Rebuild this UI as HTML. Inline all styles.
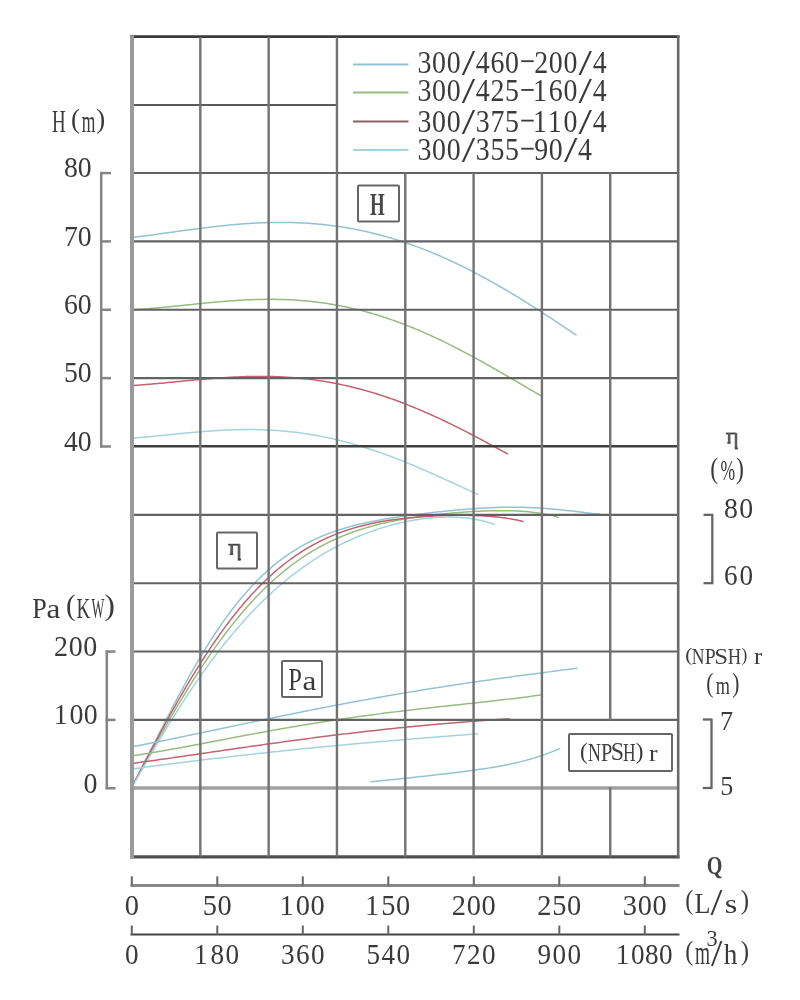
<!DOCTYPE html>
<html><head><meta charset="utf-8"><style>
html,body{margin:0;padding:0;background:#fff;}
svg{display:block;font-family:"Liberation Serif",serif;}
#w{width:800px;height:1000px;will-change:transform;}
</style></head><body>
<div id="w"><svg width="800" height="1000" viewBox="0 0 800 1000">
<rect width="800" height="1000" fill="#fff"/>
<path d="M132.00,237.44 L133.99,237.21 L135.98,236.96 L137.97,236.72 L139.96,236.47 L141.96,236.22 L143.95,235.96 L145.94,235.70 L147.93,235.44 L149.92,235.18 L151.91,234.91 L153.90,234.64 L155.89,234.37 L157.88,234.10 L159.87,233.83 L161.87,233.55 L163.86,233.28 L165.85,233.00 L167.84,232.73 L169.83,232.45 L171.82,232.17 L173.81,231.90 L175.80,231.62 L177.79,231.34 L179.78,231.07 L181.78,230.80 L183.77,230.52 L185.76,230.25 L187.75,229.99 L189.74,229.72 L191.73,229.45 L193.72,229.19 L195.71,228.93 L197.70,228.67 L199.70,228.42 L201.69,228.16 L203.68,227.92 L205.67,227.67 L207.66,227.43 L209.65,227.19 L211.64,226.95 L213.63,226.72 L215.62,226.50 L217.61,226.28 L219.61,226.06 L221.60,225.85 L223.59,225.64 L225.58,225.44 L227.57,225.24 L229.56,225.05 L231.55,224.86 L233.54,224.68 L235.53,224.51 L237.52,224.34 L239.52,224.17 L241.51,224.02 L243.50,223.87 L245.49,223.72 L247.48,223.59 L249.47,223.46 L251.46,223.34 L253.45,223.22 L255.44,223.11 L257.43,223.01 L259.43,222.92 L261.42,222.83 L263.41,222.75 L265.40,222.68 L267.39,222.62 L269.38,222.57 L271.37,222.52 L273.36,222.48 L275.35,222.45 L277.35,222.43 L279.34,222.42 L281.33,222.42 L283.32,222.42 L285.31,222.44 L287.30,222.46 L289.29,222.50 L291.28,222.54 L293.27,222.59 L295.26,222.65 L297.26,222.72 L299.25,222.80 L301.24,222.89 L303.23,222.99 L305.22,223.10 L307.21,223.22 L309.20,223.35 L311.19,223.49 L313.18,223.64 L315.17,223.80 L317.17,223.97 L319.16,224.15 L321.15,224.35 L323.14,224.55 L325.13,224.76 L327.12,224.98 L329.11,225.22 L331.10,225.46 L333.09,225.72 L335.09,225.98 L337.08,226.26 L339.07,226.55 L341.06,226.85 L343.05,227.16 L345.04,227.48 L347.03,227.81 L349.02,228.16 L351.01,228.51 L353.00,228.88 L355.00,229.26 L356.99,229.65 L358.98,230.05 L360.97,230.46 L362.96,230.88 L364.95,231.32 L366.94,231.76 L368.93,232.22 L370.92,232.69 L372.91,233.17 L374.91,233.66 L376.90,234.16 L378.89,234.68 L380.88,235.20 L382.87,235.74 L384.86,236.29 L386.85,236.85 L388.84,237.42 L390.83,238.00 L392.83,238.60 L394.82,239.21 L396.81,239.82 L398.80,240.45 L400.79,241.09 L402.78,241.74 L404.77,242.41 L406.76,243.08 L408.75,243.77 L410.74,244.47 L412.74,245.18 L414.73,245.90 L416.72,246.63 L418.71,247.37 L420.70,248.12 L422.69,248.89 L424.68,249.66 L426.67,250.45 L428.66,251.25 L430.65,252.06 L432.65,252.88 L434.64,253.71 L436.63,254.55 L438.62,255.40 L440.61,256.26 L442.60,257.14 L444.59,258.02 L446.58,258.91 L448.57,259.82 L450.57,260.73 L452.56,261.66 L454.55,262.60 L456.54,263.54 L458.53,264.50 L460.52,265.46 L462.51,266.44 L464.50,267.43 L466.49,268.42 L468.48,269.43 L470.48,270.44 L472.47,271.47 L474.46,272.50 L476.45,273.54 L478.44,274.60 L480.43,275.66 L482.42,276.73 L484.41,277.81 L486.40,278.90 L488.39,279.99 L490.39,281.10 L492.38,282.21 L494.37,283.34 L496.36,284.47 L498.35,285.61 L500.34,286.75 L502.33,287.91 L504.32,289.07 L506.31,290.24 L508.30,291.42 L510.30,292.61 L512.29,293.80 L514.28,295.00 L516.27,296.21 L518.26,297.42 L520.25,298.65 L522.24,299.87 L524.23,301.11 L526.22,302.35 L528.22,303.60 L530.21,304.85 L532.20,306.11 L534.19,307.37 L536.18,308.64 L538.17,309.92 L540.16,311.20 L542.15,312.49 L544.14,313.78 L546.13,315.08 L548.13,316.38 L550.12,317.68 L552.11,318.99 L554.10,320.31 L556.09,321.62 L558.08,322.95 L560.07,324.27 L562.06,325.60 L564.05,326.93 L566.04,328.27 L568.04,329.61 L570.03,330.95 L572.02,332.29 L574.01,333.64 L576.00,334.99" fill="none" stroke="#93c3d3" stroke-width="1.5" stroke-linecap="round" stroke-linejoin="round"/>
<path d="M132.00,309.57 L134.00,309.49 L135.99,309.39 L137.99,309.28 L139.98,309.16 L141.98,309.04 L143.97,308.91 L145.97,308.77 L147.96,308.63 L149.96,308.48 L151.95,308.32 L153.95,308.16 L155.94,307.99 L157.94,307.82 L159.93,307.64 L161.93,307.46 L163.92,307.27 L165.92,307.08 L167.91,306.89 L169.91,306.70 L171.90,306.50 L173.90,306.30 L175.89,306.10 L177.89,305.89 L179.88,305.69 L181.88,305.48 L183.87,305.27 L185.87,305.06 L187.86,304.86 L189.86,304.65 L191.85,304.44 L193.85,304.23 L195.84,304.03 L197.84,303.82 L199.83,303.62 L201.83,303.42 L203.82,303.22 L205.82,303.02 L207.81,302.83 L209.81,302.63 L211.80,302.45 L213.80,302.26 L215.80,302.08 L217.79,301.90 L219.79,301.73 L221.78,301.56 L223.78,301.39 L225.77,301.23 L227.77,301.07 L229.76,300.92 L231.76,300.78 L233.75,300.64 L235.75,300.50 L237.74,300.38 L239.74,300.26 L241.73,300.14 L243.73,300.03 L245.72,299.93 L247.72,299.84 L249.71,299.75 L251.71,299.67 L253.70,299.60 L255.70,299.53 L257.69,299.47 L259.69,299.43 L261.68,299.39 L263.68,299.35 L265.67,299.33 L267.67,299.32 L269.66,299.31 L271.66,299.31 L273.65,299.33 L275.65,299.35 L277.64,299.38 L279.64,299.42 L281.63,299.47 L283.63,299.53 L285.62,299.60 L287.62,299.68 L289.61,299.77 L291.61,299.87 L293.60,299.98 L295.60,300.11 L297.60,300.24 L299.59,300.38 L301.59,300.54 L303.58,300.70 L305.58,300.88 L307.57,301.07 L309.57,301.27 L311.56,301.48 L313.56,301.70 L315.55,301.93 L317.55,302.17 L319.54,302.43 L321.54,302.70 L323.53,302.98 L325.53,303.27 L327.52,303.57 L329.52,303.89 L331.51,304.21 L333.51,304.55 L335.50,304.90 L337.50,305.27 L339.49,305.64 L341.49,306.03 L343.48,306.43 L345.48,306.84 L347.47,307.26 L349.47,307.70 L351.46,308.15 L353.46,308.61 L355.45,309.08 L357.45,309.56 L359.44,310.06 L361.44,310.57 L363.43,311.09 L365.43,311.62 L367.42,312.17 L369.42,312.73 L371.41,313.30 L373.41,313.88 L375.40,314.47 L377.40,315.08 L379.40,315.70 L381.39,316.33 L383.39,316.97 L385.38,317.63 L387.38,318.29 L389.37,318.97 L391.37,319.66 L393.36,320.36 L395.36,321.07 L397.35,321.80 L399.35,322.53 L401.34,323.28 L403.34,324.04 L405.33,324.81 L407.33,325.59 L409.32,326.38 L411.32,327.18 L413.31,328.00 L415.31,328.82 L417.30,329.66 L419.30,330.50 L421.29,331.36 L423.29,332.23 L425.28,333.10 L427.28,333.99 L429.27,334.89 L431.27,335.80 L433.26,336.71 L435.26,337.64 L437.25,338.58 L439.25,339.52 L441.24,340.48 L443.24,341.44 L445.23,342.41 L447.23,343.39 L449.22,344.38 L451.22,345.38 L453.21,346.39 L455.21,347.40 L457.20,348.43 L459.20,349.46 L461.20,350.50 L463.19,351.54 L465.19,352.60 L467.18,353.66 L469.18,354.72 L471.17,355.80 L473.17,356.88 L475.16,357.96 L477.16,359.06 L479.15,360.15 L481.15,361.26 L483.14,362.37 L485.14,363.48 L487.13,364.60 L489.13,365.73 L491.12,366.86 L493.12,367.99 L495.11,369.13 L497.11,370.27 L499.10,371.41 L501.10,372.56 L503.09,373.71 L505.09,374.87 L507.08,376.02 L509.08,377.18 L511.07,378.35 L513.07,379.51 L515.06,380.67 L517.06,381.84 L519.05,383.01 L521.05,384.18 L523.04,385.34 L525.04,386.51 L527.03,387.68 L529.03,388.85 L531.02,390.02 L533.02,391.18 L535.01,392.35 L537.01,393.51 L539.00,394.67 L541.00,395.83" fill="none" stroke="#98bc80" stroke-width="1.5" stroke-linecap="round" stroke-linejoin="round"/>
<path d="M132.00,385.54 L134.00,385.41 L135.99,385.28 L137.99,385.14 L139.99,385.00 L141.99,384.85 L143.98,384.70 L145.98,384.54 L147.98,384.37 L149.98,384.20 L151.97,384.03 L153.97,383.86 L155.97,383.68 L157.97,383.50 L159.96,383.31 L161.96,383.13 L163.96,382.94 L165.95,382.75 L167.95,382.55 L169.95,382.36 L171.95,382.17 L173.94,381.97 L175.94,381.78 L177.94,381.58 L179.94,381.39 L181.93,381.19 L183.93,381.00 L185.93,380.80 L187.93,380.61 L189.92,380.42 L191.92,380.23 L193.92,380.04 L195.91,379.86 L197.91,379.68 L199.91,379.50 L201.91,379.32 L203.90,379.15 L205.90,378.98 L207.90,378.81 L209.90,378.65 L211.89,378.49 L213.89,378.33 L215.89,378.18 L217.89,378.04 L219.88,377.90 L221.88,377.76 L223.88,377.63 L225.88,377.51 L227.87,377.39 L229.87,377.27 L231.87,377.17 L233.86,377.07 L235.86,376.97 L237.86,376.88 L239.86,376.80 L241.85,376.73 L243.85,376.66 L245.85,376.60 L247.85,376.55 L249.84,376.50 L251.84,376.46 L253.84,376.44 L255.84,376.41 L257.83,376.40 L259.83,376.40 L261.83,376.40 L263.82,376.41 L265.82,376.43 L267.82,376.46 L269.82,376.50 L271.81,376.55 L273.81,376.61 L275.81,376.67 L277.81,376.75 L279.80,376.83 L281.80,376.93 L283.80,377.03 L285.80,377.15 L287.79,377.27 L289.79,377.41 L291.79,377.55 L293.78,377.71 L295.78,377.87 L297.78,378.05 L299.78,378.24 L301.77,378.43 L303.77,378.64 L305.77,378.86 L307.77,379.09 L309.76,379.33 L311.76,379.58 L313.76,379.84 L315.76,380.12 L317.75,380.40 L319.75,380.69 L321.75,381.00 L323.74,381.32 L325.74,381.65 L327.74,381.99 L329.74,382.34 L331.73,382.70 L333.73,383.08 L335.73,383.46 L337.73,383.86 L339.72,384.27 L341.72,384.69 L343.72,385.12 L345.72,385.56 L347.71,386.01 L349.71,386.48 L351.71,386.96 L353.70,387.45 L355.70,387.95 L357.70,388.46 L359.70,388.98 L361.69,389.51 L363.69,390.06 L365.69,390.62 L367.69,391.18 L369.68,391.76 L371.68,392.35 L373.68,392.95 L375.68,393.57 L377.67,394.19 L379.67,394.83 L381.67,395.47 L383.66,396.13 L385.66,396.80 L387.66,397.48 L389.66,398.17 L391.65,398.87 L393.65,399.58 L395.65,400.30 L397.65,401.03 L399.64,401.77 L401.64,402.53 L403.64,403.29 L405.64,404.06 L407.63,404.85 L409.63,405.64 L411.63,406.44 L413.62,407.25 L415.62,408.08 L417.62,408.91 L419.62,409.75 L421.61,410.60 L423.61,411.46 L425.61,412.33 L427.61,413.21 L429.60,414.10 L431.60,414.99 L433.60,415.89 L435.60,416.81 L437.59,417.73 L439.59,418.66 L441.59,419.59 L443.59,420.54 L445.58,421.49 L447.58,422.45 L449.58,423.42 L451.57,424.39 L453.57,425.38 L455.57,426.37 L457.57,427.36 L459.56,428.36 L461.56,429.37 L463.56,430.39 L465.56,431.41 L467.55,432.43 L469.55,433.47 L471.55,434.50 L473.55,435.55 L475.54,436.59 L477.54,437.65 L479.54,438.70 L481.53,439.77 L483.53,440.83 L485.53,441.90 L487.53,442.98 L489.52,444.05 L491.52,445.13 L493.52,446.22 L495.52,447.30 L497.51,448.39 L499.51,449.48 L501.51,450.58 L503.51,451.67 L505.50,452.77 L507.50,453.87" fill="none" stroke="#c0646e" stroke-width="1.5" stroke-linecap="round" stroke-linejoin="round"/>
<path d="M132.00,438.17 L134.00,438.02 L135.99,437.86 L137.99,437.70 L139.99,437.53 L141.99,437.36 L143.98,437.19 L145.98,437.00 L147.98,436.82 L149.97,436.63 L151.97,436.44 L153.97,436.25 L155.97,436.05 L157.96,435.85 L159.96,435.66 L161.96,435.45 L163.95,435.25 L165.95,435.05 L167.95,434.85 L169.95,434.65 L171.94,434.44 L173.94,434.24 L175.94,434.04 L177.93,433.84 L179.93,433.64 L181.93,433.45 L183.92,433.25 L185.92,433.06 L187.92,432.87 L189.92,432.68 L191.91,432.50 L193.91,432.32 L195.91,432.14 L197.90,431.97 L199.90,431.80 L201.90,431.63 L203.90,431.47 L205.89,431.32 L207.89,431.17 L209.89,431.02 L211.88,430.89 L213.88,430.75 L215.88,430.62 L217.88,430.50 L219.87,430.39 L221.87,430.28 L223.87,430.18 L225.86,430.08 L227.86,430.00 L229.86,429.92 L231.86,429.84 L233.85,429.78 L235.85,429.72 L237.85,429.67 L239.84,429.63 L241.84,429.60 L243.84,429.57 L245.84,429.56 L247.83,429.55 L249.83,429.55 L251.83,429.57 L253.82,429.59 L255.82,429.62 L257.82,429.66 L259.82,429.71 L261.81,429.76 L263.81,429.83 L265.81,429.91 L267.80,430.00 L269.80,430.10 L271.80,430.21 L273.79,430.33 L275.79,430.46 L277.79,430.60 L279.79,430.75 L281.78,430.91 L283.78,431.09 L285.78,431.27 L287.77,431.46 L289.77,431.67 L291.77,431.89 L293.77,432.11 L295.76,432.35 L297.76,432.60 L299.76,432.86 L301.75,433.14 L303.75,433.42 L305.75,433.72 L307.75,434.02 L309.74,434.34 L311.74,434.67 L313.74,435.01 L315.73,435.36 L317.73,435.72 L319.73,436.10 L321.73,436.48 L323.72,436.88 L325.72,437.29 L327.72,437.71 L329.71,438.14 L331.71,438.58 L333.71,439.04 L335.71,439.50 L337.70,439.98 L339.70,440.47 L341.70,440.97 L343.69,441.47 L345.69,442.00 L347.69,442.53 L349.68,443.07 L351.68,443.62 L353.68,444.19 L355.68,444.76 L357.67,445.34 L359.67,445.94 L361.67,446.55 L363.66,447.16 L365.66,447.79 L367.66,448.43 L369.66,449.07 L371.65,449.73 L373.65,450.39 L375.65,451.07 L377.64,451.75 L379.64,452.45 L381.64,453.15 L383.64,453.87 L385.63,454.59 L387.63,455.32 L389.63,456.06 L391.62,456.81 L393.62,457.56 L395.62,458.33 L397.62,459.10 L399.61,459.88 L401.61,460.67 L403.61,461.47 L405.60,462.27 L407.60,463.08 L409.60,463.90 L411.60,464.72 L413.59,465.55 L415.59,466.39 L417.59,467.23 L419.58,468.08 L421.58,468.94 L423.58,469.80 L425.58,470.66 L427.57,471.54 L429.57,472.41 L431.57,473.29 L433.56,474.18 L435.56,475.07 L437.56,475.96 L439.55,476.86 L441.55,477.76 L443.55,478.66 L445.55,479.57 L447.54,480.48 L449.54,481.39 L451.54,482.30 L453.53,483.22 L455.53,484.13 L457.53,485.05 L459.53,485.97 L461.52,486.89 L463.52,487.81 L465.52,488.73 L467.51,489.65 L469.51,490.57 L471.51,491.49 L473.51,492.40 L475.50,493.32 L477.50,494.23" fill="none" stroke="#a4d3e0" stroke-width="1.5" stroke-linecap="round" stroke-linejoin="round"/>
<path d="M132.00,786.45 L133.99,782.67 L135.98,778.86 L137.97,775.02 L139.97,771.16 L141.96,767.27 L143.95,763.37 L145.94,759.46 L147.93,755.53 L149.92,751.60 L151.91,747.67 L153.91,743.73 L155.90,739.80 L157.89,735.86 L159.88,731.94 L161.87,728.03 L163.86,724.13 L165.86,720.24 L167.85,716.37 L169.84,712.51 L171.83,708.68 L173.82,704.87 L175.81,701.09 L177.80,697.33 L179.80,693.60 L181.79,689.90 L183.78,686.23 L185.77,682.60 L187.76,678.99 L189.75,675.43 L191.74,671.90 L193.74,668.40 L195.73,664.95 L197.72,661.54 L199.71,658.16 L201.70,654.83 L203.69,651.54 L205.69,648.29 L207.68,645.09 L209.67,641.93 L211.66,638.82 L213.65,635.76 L215.64,632.73 L217.63,629.76 L219.63,626.83 L221.62,623.95 L223.61,621.12 L225.60,618.34 L227.59,615.60 L229.58,612.91 L231.57,610.27 L233.57,607.68 L235.56,605.13 L237.55,602.64 L239.54,600.19 L241.53,597.79 L243.52,595.43 L245.51,593.13 L247.51,590.87 L249.50,588.66 L251.49,586.49 L253.48,584.38 L255.47,582.31 L257.46,580.28 L259.46,578.30 L261.45,576.37 L263.44,574.47 L265.43,572.63 L267.42,570.83 L269.41,569.07 L271.40,567.35 L273.40,565.67 L275.39,564.04 L277.38,562.45 L279.37,560.90 L281.36,559.39 L283.35,557.91 L285.34,556.48 L287.34,555.08 L289.33,553.72 L291.32,552.40 L293.31,551.11 L295.30,549.86 L297.29,548.65 L299.29,547.46 L301.28,546.31 L303.27,545.20 L305.26,544.11 L307.25,543.06 L309.24,542.04 L311.23,541.04 L313.23,540.08 L315.22,539.14 L317.21,538.23 L319.20,537.35 L321.19,536.50 L323.18,535.67 L325.17,534.86 L327.17,534.08 L329.16,533.32 L331.15,532.59 L333.14,531.88 L335.13,531.18 L337.12,530.51 L339.11,529.86 L341.11,529.23 L343.10,528.62 L345.09,528.03 L347.08,527.45 L349.07,526.89 L351.06,526.35 L353.06,525.82 L355.05,525.31 L357.04,524.82 L359.03,524.33 L361.02,523.86 L363.01,523.41 L365.00,522.96 L367.00,522.53 L368.99,522.11 L370.98,521.70 L372.97,521.30 L374.96,520.91 L376.95,520.54 L378.94,520.17 L380.94,519.81 L382.93,519.45 L384.92,519.11 L386.91,518.77 L388.90,518.44 L390.89,518.12 L392.89,517.80 L394.88,517.49 L396.87,517.19 L398.86,516.89 L400.85,516.60 L402.84,516.32 L404.83,516.03 L406.83,515.76 L408.82,515.48 L410.81,515.22 L412.80,514.95 L414.79,514.69 L416.78,514.44 L418.77,514.19 L420.77,513.94 L422.76,513.70 L424.75,513.46 L426.74,513.22 L428.73,512.98 L430.72,512.75 L432.71,512.53 L434.71,512.30 L436.70,512.08 L438.69,511.87 L440.68,511.65 L442.67,511.45 L444.66,511.24 L446.66,511.04 L448.65,510.84 L450.64,510.64 L452.63,510.45 L454.62,510.26 L456.61,510.08 L458.60,509.90 L460.60,509.72 L462.59,509.55 L464.58,509.39 L466.57,509.23 L468.56,509.07 L470.55,508.92 L472.54,508.77 L474.54,508.63 L476.53,508.49 L478.52,508.36 L480.51,508.24 L482.50,508.12 L484.49,508.01 L486.49,507.91 L488.48,507.81 L490.47,507.71 L492.46,507.63 L494.45,507.55 L496.44,507.48 L498.43,507.42 L500.43,507.36 L502.42,507.32 L504.41,507.28 L506.40,507.25 L508.39,507.23 L510.38,507.21 L512.37,507.21 L514.37,507.21 L516.36,507.22 L518.35,507.24 L520.34,507.27 L522.33,507.31 L524.32,507.36 L526.31,507.42 L528.31,507.49 L530.30,507.57 L532.29,507.65 L534.28,507.75 L536.27,507.85 L538.26,507.97 L540.26,508.09 L542.25,508.22 L544.24,508.36 L546.23,508.51 L548.22,508.67 L550.21,508.83 L552.20,509.01 L554.20,509.19 L556.19,509.38 L558.18,509.57 L560.17,509.78 L562.16,509.99 L564.15,510.20 L566.14,510.42 L568.14,510.64 L570.13,510.87 L572.12,511.10 L574.11,511.34 L576.10,511.58 L578.09,511.81 L580.09,512.05 L582.08,512.29 L584.07,512.53 L586.06,512.76 L588.05,512.99 L590.04,513.22 L592.03,513.44 L594.03,513.66 L596.02,513.87 L598.01,514.07 L600.00,514.25" fill="none" stroke="#93c3d3" stroke-width="1.5" stroke-linecap="round" stroke-linejoin="round"/>
<path d="M132.00,786.91 L133.99,783.26 L135.98,779.61 L137.97,775.96 L139.96,772.32 L141.95,768.68 L143.94,765.05 L145.93,761.43 L147.93,757.82 L149.92,754.21 L151.91,750.62 L153.90,747.04 L155.89,743.48 L157.88,739.93 L159.87,736.39 L161.86,732.87 L163.85,729.37 L165.84,725.89 L167.83,722.42 L169.82,718.98 L171.81,715.55 L173.80,712.15 L175.79,708.77 L177.79,705.41 L179.78,702.08 L181.77,698.77 L183.76,695.49 L185.75,692.23 L187.74,689.00 L189.73,685.80 L191.72,682.63 L193.71,679.48 L195.70,676.36 L197.69,673.27 L199.68,670.21 L201.67,667.18 L203.66,664.18 L205.65,661.22 L207.64,658.28 L209.64,655.37 L211.63,652.50 L213.62,649.66 L215.61,646.85 L217.60,644.08 L219.59,641.34 L221.58,638.63 L223.57,635.96 L225.56,633.32 L227.55,630.71 L229.54,628.14 L231.53,625.60 L233.52,623.10 L235.51,620.63 L237.50,618.19 L239.50,615.80 L241.49,613.43 L243.48,611.10 L245.47,608.81 L247.46,606.55 L249.45,604.32 L251.44,602.13 L253.43,599.98 L255.42,597.86 L257.41,595.77 L259.40,593.72 L261.39,591.70 L263.38,589.72 L265.37,587.77 L267.36,585.86 L269.36,583.98 L271.35,582.13 L273.34,580.31 L275.33,578.54 L277.32,576.79 L279.31,575.07 L281.30,573.39 L283.29,571.74 L285.28,570.13 L287.27,568.54 L289.26,566.99 L291.25,565.47 L293.24,563.98 L295.23,562.52 L297.22,561.09 L299.21,559.69 L301.21,558.33 L303.20,556.99 L305.19,555.68 L307.18,554.40 L309.17,553.15 L311.16,551.92 L313.15,550.73 L315.14,549.56 L317.13,548.42 L319.12,547.30 L321.11,546.22 L323.10,545.15 L325.09,544.12 L327.08,543.11 L329.07,542.12 L331.07,541.16 L333.06,540.22 L335.05,539.31 L337.04,538.41 L339.03,537.55 L341.02,536.70 L343.01,535.88 L345.00,535.07 L346.99,534.29 L348.98,533.53 L350.97,532.79 L352.96,532.07 L354.95,531.37 L356.94,530.69 L358.93,530.03 L360.93,529.38 L362.92,528.75 L364.91,528.14 L366.90,527.55 L368.89,526.98 L370.88,526.41 L372.87,525.87 L374.86,525.34 L376.85,524.83 L378.84,524.33 L380.83,523.84 L382.82,523.37 L384.81,522.91 L386.80,522.47 L388.79,522.03 L390.79,521.61 L392.78,521.20 L394.77,520.81 L396.76,520.42 L398.75,520.05 L400.74,519.68 L402.73,519.33 L404.72,518.98 L406.71,518.65 L408.70,518.32 L410.69,518.01 L412.68,517.70 L414.67,517.40 L416.66,517.11 L418.65,516.83 L420.64,516.55 L422.64,516.29 L424.63,516.02 L426.62,515.77 L428.61,515.52 L430.60,515.28 L432.59,515.05 L434.58,514.82 L436.57,514.60 L438.56,514.39 L440.55,514.18 L442.54,513.98 L444.53,513.78 L446.52,513.59 L448.51,513.40 L450.50,513.22 L452.50,513.04 L454.49,512.87 L456.48,512.71 L458.47,512.55 L460.46,512.39 L462.45,512.24 L464.44,512.10 L466.43,511.96 L468.42,511.83 L470.41,511.70 L472.40,511.58 L474.39,511.47 L476.38,511.36 L478.37,511.26 L480.36,511.16 L482.36,511.08 L484.35,511.00 L486.34,510.92 L488.33,510.85 L490.32,510.80 L492.31,510.75 L494.30,510.70 L496.29,510.67 L498.28,510.65 L500.27,510.63 L502.26,510.63 L504.25,510.64 L506.24,510.66 L508.23,510.69 L510.22,510.73 L512.21,510.78 L514.21,510.85 L516.20,510.93 L518.19,511.03 L520.18,511.14 L522.17,511.26 L524.16,511.41 L526.15,511.57 L528.14,511.75 L530.13,511.94 L532.12,512.16 L534.11,512.40 L536.10,512.65 L538.09,512.94 L540.08,513.24 L542.07,513.57 L544.07,513.92 L546.06,514.30 L548.05,514.70 L550.04,515.13 L552.03,515.60 L554.02,516.09 L556.01,516.61 L558.00,517.17" fill="none" stroke="#98bc80" stroke-width="1.5" stroke-linecap="round" stroke-linejoin="round"/>
<path d="M132.00,786.86 L133.99,783.01 L135.99,779.16 L137.98,775.31 L139.98,771.46 L141.97,767.62 L143.97,763.79 L145.96,759.97 L147.96,756.15 L149.95,752.35 L151.95,748.56 L153.94,744.79 L155.94,741.03 L157.93,737.28 L159.93,733.56 L161.92,729.85 L163.92,726.16 L165.91,722.50 L167.91,718.85 L169.90,715.23 L171.90,711.64 L173.89,708.06 L175.89,704.52 L177.88,701.00 L179.88,697.50 L181.87,694.04 L183.87,690.60 L185.86,687.19 L187.86,683.82 L189.85,680.47 L191.85,677.16 L193.84,673.88 L195.84,670.63 L197.83,667.42 L199.83,664.24 L201.82,661.09 L203.82,657.98 L205.81,654.90 L207.81,651.86 L209.80,648.86 L211.80,645.89 L213.79,642.96 L215.79,640.06 L217.78,637.21 L219.78,634.39 L221.77,631.61 L223.77,628.86 L225.76,626.16 L227.76,623.49 L229.75,620.87 L231.74,618.28 L233.74,615.73 L235.73,613.22 L237.73,610.75 L239.72,608.32 L241.72,605.92 L243.71,603.57 L245.71,601.25 L247.70,598.98 L249.70,596.74 L251.69,594.54 L253.69,592.39 L255.68,590.27 L257.68,588.19 L259.67,586.14 L261.67,584.14 L263.66,582.17 L265.66,580.24 L267.65,578.35 L269.65,576.50 L271.64,574.69 L273.64,572.91 L275.63,571.17 L277.63,569.46 L279.62,567.79 L281.62,566.16 L283.61,564.56 L285.61,563.00 L287.60,561.48 L289.60,559.99 L291.59,558.53 L293.59,557.11 L295.58,555.72 L297.58,554.36 L299.57,553.04 L301.57,551.75 L303.56,550.49 L305.56,549.26 L307.55,548.06 L309.55,546.90 L311.54,545.77 L313.54,544.66 L315.53,543.59 L317.53,542.54 L319.52,541.52 L321.52,540.53 L323.51,539.57 L325.51,538.64 L327.50,537.73 L329.49,536.85 L331.49,535.99 L333.48,535.16 L335.48,534.36 L337.47,533.58 L339.47,532.82 L341.46,532.09 L343.46,531.38 L345.45,530.69 L347.45,530.02 L349.44,529.38 L351.44,528.76 L353.43,528.15 L355.43,527.57 L357.42,527.01 L359.42,526.46 L361.41,525.94 L363.41,525.43 L365.40,524.94 L367.40,524.47 L369.39,524.01 L371.39,523.58 L373.38,523.15 L375.38,522.74 L377.37,522.35 L379.37,521.97 L381.36,521.61 L383.36,521.26 L385.35,520.92 L387.35,520.60 L389.34,520.29 L391.34,519.99 L393.33,519.71 L395.33,519.43 L397.32,519.17 L399.32,518.92 L401.31,518.68 L403.31,518.44 L405.30,518.22 L407.30,518.01 L409.29,517.81 L411.29,517.62 L413.28,517.43 L415.28,517.26 L417.27,517.09 L419.27,516.93 L421.26,516.78 L423.26,516.64 L425.25,516.50 L427.24,516.38 L429.24,516.26 L431.23,516.14 L433.23,516.04 L435.22,515.94 L437.22,515.85 L439.21,515.77 L441.21,515.69 L443.20,515.62 L445.20,515.56 L447.19,515.50 L449.19,515.46 L451.18,515.42 L453.18,515.38 L455.17,515.36 L457.17,515.34 L459.16,515.33 L461.16,515.33 L463.15,515.34 L465.15,515.35 L467.14,515.37 L469.14,515.41 L471.13,515.45 L473.13,515.50 L475.12,515.56 L477.12,515.64 L479.11,515.72 L481.11,515.81 L483.10,515.92 L485.10,516.04 L487.09,516.17 L489.09,516.32 L491.08,516.47 L493.08,516.65 L495.07,516.83 L497.07,517.04 L499.06,517.26 L501.06,517.50 L503.05,517.75 L505.05,518.03 L507.04,518.32 L509.04,518.63 L511.03,518.97 L513.03,519.33 L515.02,519.71 L517.02,520.11 L519.01,520.54 L521.01,521.00 L523.00,521.48" fill="none" stroke="#c0646e" stroke-width="1.5" stroke-linecap="round" stroke-linejoin="round"/>
<path d="M132.00,787.21 L133.99,783.71 L135.98,780.21 L137.97,776.72 L139.96,773.24 L141.95,769.77 L143.93,766.32 L145.92,762.88 L147.91,759.45 L149.90,756.04 L151.89,752.64 L153.88,749.26 L155.87,745.89 L157.86,742.55 L159.85,739.22 L161.84,735.91 L163.82,732.62 L165.81,729.35 L167.80,726.10 L169.79,722.87 L171.78,719.66 L173.77,716.47 L175.76,713.31 L177.75,710.17 L179.74,707.05 L181.73,703.96 L183.71,700.89 L185.70,697.85 L187.69,694.83 L189.68,691.83 L191.67,688.86 L193.66,685.92 L195.65,683.01 L197.64,680.12 L199.63,677.26 L201.62,674.42 L203.60,671.61 L205.59,668.83 L207.58,666.08 L209.57,663.35 L211.56,660.66 L213.55,657.99 L215.54,655.35 L217.53,652.74 L219.52,650.15 L221.51,647.60 L223.49,645.07 L225.48,642.58 L227.47,640.11 L229.46,637.67 L231.45,635.26 L233.44,632.88 L235.43,630.53 L237.42,628.20 L239.41,625.91 L241.40,623.64 L243.38,621.41 L245.37,619.20 L247.36,617.02 L249.35,614.87 L251.34,612.75 L253.33,610.66 L255.32,608.59 L257.31,606.55 L259.30,604.55 L261.29,602.57 L263.27,600.62 L265.26,598.69 L267.25,596.80 L269.24,594.93 L271.23,593.09 L273.22,591.27 L275.21,589.49 L277.20,587.73 L279.19,585.99 L281.18,584.29 L283.16,582.61 L285.15,580.96 L287.14,579.33 L289.13,577.73 L291.12,576.15 L293.11,574.60 L295.10,573.07 L297.09,571.57 L299.08,570.10 L301.07,568.65 L303.05,567.22 L305.04,565.82 L307.03,564.44 L309.02,563.08 L311.01,561.75 L313.00,560.44 L314.99,559.16 L316.98,557.89 L318.97,556.65 L320.96,555.44 L322.95,554.24 L324.93,553.07 L326.92,551.91 L328.91,550.78 L330.90,549.67 L332.89,548.58 L334.88,547.52 L336.87,546.47 L338.86,545.44 L340.85,544.44 L342.84,543.45 L344.82,542.48 L346.81,541.53 L348.80,540.61 L350.79,539.70 L352.78,538.81 L354.77,537.94 L356.76,537.08 L358.75,536.25 L360.74,535.44 L362.73,534.64 L364.71,533.86 L366.70,533.10 L368.69,532.36 L370.68,531.63 L372.67,530.92 L374.66,530.23 L376.65,529.56 L378.64,528.90 L380.63,528.27 L382.62,527.65 L384.60,527.04 L386.59,526.46 L388.58,525.89 L390.57,525.33 L392.56,524.80 L394.55,524.28 L396.54,523.78 L398.53,523.29 L400.52,522.83 L402.51,522.38 L404.49,521.94 L406.48,521.53 L408.47,521.13 L410.46,520.75 L412.45,520.39 L414.44,520.04 L416.43,519.71 L418.42,519.40 L420.41,519.11 L422.40,518.84 L424.38,518.58 L426.37,518.35 L428.36,518.13 L430.35,517.93 L432.34,517.75 L434.33,517.60 L436.32,517.46 L438.31,517.34 L440.30,517.24 L442.29,517.17 L444.27,517.11 L446.26,517.08 L448.25,517.07 L450.24,517.08 L452.23,517.11 L454.22,517.17 L456.21,517.25 L458.20,517.36 L460.19,517.49 L462.18,517.65 L464.16,517.83 L466.15,518.05 L468.14,518.28 L470.13,518.55 L472.12,518.84 L474.11,519.17 L476.10,519.52 L478.09,519.91 L480.08,520.32 L482.07,520.77 L484.05,521.25 L486.04,521.77 L488.03,522.32 L490.02,522.90 L492.01,523.53 L494.00,524.19" fill="none" stroke="#a4d3e0" stroke-width="1.5" stroke-linecap="round" stroke-linejoin="round"/>
<path d="M132.00,746.82 L134.00,746.44 L135.99,746.06 L137.99,745.67 L139.98,745.28 L141.98,744.89 L143.97,744.50 L145.97,744.11 L147.96,743.72 L149.96,743.32 L151.96,742.93 L153.95,742.53 L155.95,742.13 L157.94,741.73 L159.94,741.33 L161.93,740.92 L163.93,740.52 L165.92,740.12 L167.92,739.71 L169.91,739.30 L171.91,738.89 L173.91,738.49 L175.90,738.08 L177.90,737.66 L179.89,737.25 L181.89,736.84 L183.88,736.43 L185.88,736.01 L187.87,735.60 L189.87,735.18 L191.87,734.77 L193.86,734.35 L195.86,733.94 L197.85,733.52 L199.85,733.10 L201.84,732.68 L203.84,732.27 L205.83,731.85 L207.83,731.43 L209.83,731.01 L211.82,730.59 L213.82,730.17 L215.81,729.75 L217.81,729.33 L219.80,728.91 L221.80,728.49 L223.79,728.07 L225.79,727.65 L227.78,727.23 L229.78,726.81 L231.78,726.39 L233.77,725.97 L235.77,725.55 L237.76,725.13 L239.76,724.71 L241.75,724.30 L243.75,723.88 L245.74,723.46 L247.74,723.04 L249.74,722.62 L251.73,722.21 L253.73,721.79 L255.72,721.37 L257.72,720.96 L259.71,720.54 L261.71,720.13 L263.70,719.71 L265.70,719.30 L267.70,718.89 L269.69,718.47 L271.69,718.06 L273.68,717.65 L275.68,717.24 L277.67,716.83 L279.67,716.42 L281.66,716.01 L283.66,715.60 L285.65,715.20 L287.65,714.79 L289.65,714.39 L291.64,713.98 L293.64,713.58 L295.63,713.17 L297.63,712.77 L299.62,712.37 L301.62,711.97 L303.61,711.57 L305.61,711.17 L307.61,710.78 L309.60,710.38 L311.60,709.99 L313.59,709.59 L315.59,709.20 L317.58,708.81 L319.58,708.42 L321.57,708.03 L323.57,707.64 L325.57,707.25 L327.56,706.87 L329.56,706.48 L331.55,706.10 L333.55,705.71 L335.54,705.33 L337.54,704.95 L339.53,704.57 L341.53,704.19 L343.52,703.82 L345.52,703.44 L347.52,703.07 L349.51,702.70 L351.51,702.32 L353.50,701.95 L355.50,701.58 L357.49,701.22 L359.49,700.85 L361.48,700.48 L363.48,700.12 L365.48,699.76 L367.47,699.40 L369.47,699.04 L371.46,698.68 L373.46,698.32 L375.45,697.97 L377.45,697.61 L379.44,697.26 L381.44,696.91 L383.43,696.56 L385.43,696.21 L387.43,695.86 L389.42,695.51 L391.42,695.17 L393.41,694.83 L395.41,694.48 L397.40,694.14 L399.40,693.80 L401.39,693.47 L403.39,693.13 L405.39,692.79 L407.38,692.46 L409.38,692.13 L411.37,691.80 L413.37,691.47 L415.36,691.14 L417.36,690.81 L419.35,690.49 L421.35,690.16 L423.35,689.84 L425.34,689.52 L427.34,689.20 L429.33,688.88 L431.33,688.56 L433.32,688.25 L435.32,687.93 L437.31,687.62 L439.31,687.31 L441.30,687.00 L443.30,686.69 L445.30,686.38 L447.29,686.07 L449.29,685.77 L451.28,685.47 L453.28,685.16 L455.27,684.86 L457.27,684.56 L459.26,684.26 L461.26,683.96 L463.26,683.67 L465.25,683.37 L467.25,683.08 L469.24,682.79 L471.24,682.49 L473.23,682.20 L475.23,681.91 L477.22,681.63 L479.22,681.34 L481.22,681.05 L483.21,680.77 L485.21,680.48 L487.20,680.20 L489.20,679.92 L491.19,679.64 L493.19,679.36 L495.18,679.08 L497.18,678.80 L499.17,678.53 L501.17,678.25 L503.17,677.98 L505.16,677.70 L507.16,677.43 L509.15,677.16 L511.15,676.89 L513.14,676.62 L515.14,676.35 L517.13,676.08 L519.13,675.81 L521.13,675.54 L523.12,675.28 L525.12,675.01 L527.11,674.75 L529.11,674.48 L531.10,674.22 L533.10,673.96 L535.09,673.70 L537.09,673.43 L539.09,673.17 L541.08,672.91 L543.08,672.65 L545.07,672.39 L547.07,672.13 L549.06,671.88 L551.06,671.62 L553.05,671.36 L555.05,671.10 L557.04,670.84 L559.04,670.59 L561.04,670.33 L563.03,670.08 L565.03,669.82 L567.02,669.56 L569.02,669.31 L571.01,669.05 L573.01,668.80 L575.00,668.54 L577.00,668.29" fill="none" stroke="#93c3d3" stroke-width="1.5" stroke-linecap="round" stroke-linejoin="round"/>
<path d="M132.00,755.92 L133.99,755.61 L135.99,755.30 L137.98,754.99 L139.97,754.68 L141.96,754.36 L143.96,754.03 L145.95,753.71 L147.94,753.38 L149.93,753.05 L151.93,752.71 L153.92,752.37 L155.91,752.03 L157.90,751.69 L159.90,751.35 L161.89,751.00 L163.88,750.65 L165.88,750.29 L167.87,749.94 L169.86,749.58 L171.85,749.23 L173.85,748.86 L175.84,748.50 L177.83,748.14 L179.82,747.77 L181.82,747.41 L183.81,747.04 L185.80,746.67 L187.80,746.30 L189.79,745.93 L191.78,745.55 L193.77,745.18 L195.77,744.80 L197.76,744.43 L199.75,744.05 L201.74,743.68 L203.74,743.30 L205.73,742.92 L207.72,742.54 L209.71,742.16 L211.71,741.78 L213.70,741.40 L215.69,741.02 L217.69,740.64 L219.68,740.27 L221.67,739.89 L223.66,739.51 L225.66,739.13 L227.65,738.75 L229.64,738.37 L231.63,737.99 L233.63,737.61 L235.62,737.24 L237.61,736.86 L239.60,736.48 L241.60,736.11 L243.59,735.73 L245.58,735.36 L247.58,734.99 L249.57,734.62 L251.56,734.24 L253.55,733.87 L255.55,733.50 L257.54,733.14 L259.53,732.77 L261.52,732.40 L263.52,732.04 L265.51,731.68 L267.50,731.31 L269.50,730.95 L271.49,730.59 L273.48,730.24 L275.47,729.88 L277.47,729.52 L279.46,729.17 L281.45,728.82 L283.44,728.47 L285.44,728.12 L287.43,727.77 L289.42,727.43 L291.41,727.08 L293.41,726.74 L295.40,726.40 L297.39,726.06 L299.39,725.73 L301.38,725.39 L303.37,725.06 L305.36,724.73 L307.36,724.40 L309.35,724.07 L311.34,723.75 L313.33,723.42 L315.33,723.10 L317.32,722.78 L319.31,722.46 L321.30,722.15 L323.30,721.83 L325.29,721.52 L327.28,721.21 L329.28,720.91 L331.27,720.60 L333.26,720.30 L335.25,720.00 L337.25,719.70 L339.24,719.40 L341.23,719.10 L343.22,718.81 L345.22,718.52 L347.21,718.23 L349.20,717.94 L351.20,717.66 L353.19,717.37 L355.18,717.09 L357.17,716.81 L359.17,716.54 L361.16,716.26 L363.15,715.99 L365.14,715.72 L367.14,715.45 L369.13,715.18 L371.12,714.92 L373.11,714.65 L375.11,714.39 L377.10,714.13 L379.09,713.87 L381.09,713.62 L383.08,713.36 L385.07,713.11 L387.06,712.86 L389.06,712.61 L391.05,712.36 L393.04,712.12 L395.03,711.87 L397.03,711.63 L399.02,711.39 L401.01,711.15 L403.00,710.91 L405.00,710.67 L406.99,710.44 L408.98,710.20 L410.98,709.97 L412.97,709.74 L414.96,709.51 L416.95,709.28 L418.95,709.06 L420.94,708.83 L422.93,708.60 L424.92,708.38 L426.92,708.16 L428.91,707.93 L430.90,707.71 L432.90,707.49 L434.89,707.27 L436.88,707.05 L438.87,706.84 L440.87,706.62 L442.86,706.40 L444.85,706.19 L446.84,705.97 L448.84,705.75 L450.83,705.54 L452.82,705.32 L454.81,705.11 L456.81,704.89 L458.80,704.68 L460.79,704.47 L462.79,704.25 L464.78,704.04 L466.77,703.82 L468.76,703.61 L470.76,703.39 L472.75,703.17 L474.74,702.96 L476.73,702.74 L478.73,702.52 L480.72,702.31 L482.71,702.09 L484.70,701.87 L486.70,701.65 L488.69,701.43 L490.68,701.20 L492.68,700.98 L494.67,700.75 L496.66,700.53 L498.65,700.30 L500.65,700.07 L502.64,699.84 L504.63,699.60 L506.62,699.37 L508.62,699.13 L510.61,698.89 L512.60,698.65 L514.60,698.41 L516.59,698.17 L518.58,697.92 L520.57,697.67 L522.57,697.42 L524.56,697.16 L526.55,696.90 L528.54,696.64 L530.54,696.38 L532.53,696.11 L534.52,695.84 L536.51,695.57 L538.51,695.29 L540.50,695.01" fill="none" stroke="#98bc80" stroke-width="1.5" stroke-linecap="round" stroke-linejoin="round"/>
<path d="M132.00,763.46 L133.99,763.19 L135.99,762.92 L137.98,762.64 L139.98,762.37 L141.97,762.10 L143.97,761.82 L145.96,761.54 L147.96,761.26 L149.95,760.99 L151.95,760.71 L153.94,760.42 L155.94,760.14 L157.93,759.86 L159.93,759.58 L161.92,759.30 L163.92,759.01 L165.91,758.73 L167.90,758.44 L169.90,758.16 L171.89,757.87 L173.89,757.58 L175.88,757.29 L177.88,757.01 L179.87,756.72 L181.87,756.43 L183.86,756.14 L185.86,755.85 L187.85,755.56 L189.85,755.27 L191.84,754.98 L193.84,754.69 L195.83,754.40 L197.83,754.11 L199.82,753.82 L201.81,753.53 L203.81,753.24 L205.80,752.95 L207.80,752.66 L209.79,752.37 L211.79,752.08 L213.78,751.79 L215.78,751.50 L217.77,751.21 L219.77,750.92 L221.76,750.63 L223.76,750.34 L225.75,750.05 L227.75,749.76 L229.74,749.47 L231.74,749.18 L233.73,748.89 L235.72,748.60 L237.72,748.32 L239.71,748.03 L241.71,747.74 L243.70,747.46 L245.70,747.17 L247.69,746.88 L249.69,746.60 L251.68,746.31 L253.68,746.03 L255.67,745.75 L257.67,745.46 L259.66,745.18 L261.66,744.90 L263.65,744.62 L265.65,744.34 L267.64,744.06 L269.63,743.78 L271.63,743.50 L273.62,743.23 L275.62,742.95 L277.61,742.67 L279.61,742.40 L281.60,742.12 L283.60,741.85 L285.59,741.58 L287.59,741.31 L289.58,741.04 L291.58,740.77 L293.57,740.50 L295.57,740.23 L297.56,739.96 L299.56,739.70 L301.55,739.43 L303.54,739.17 L305.54,738.90 L307.53,738.64 L309.53,738.38 L311.52,738.12 L313.52,737.86 L315.51,737.60 L317.51,737.34 L319.50,737.09 L321.50,736.83 L323.49,736.58 L325.49,736.33 L327.48,736.08 L329.48,735.83 L331.47,735.58 L333.47,735.33 L335.46,735.08 L337.46,734.84 L339.45,734.59 L341.44,734.35 L343.44,734.11 L345.43,733.87 L347.43,733.63 L349.42,733.39 L351.42,733.15 L353.41,732.92 L355.41,732.69 L357.40,732.45 L359.40,732.22 L361.39,731.99 L363.39,731.76 L365.38,731.53 L367.38,731.31 L369.37,731.08 L371.37,730.86 L373.36,730.64 L375.35,730.42 L377.35,730.20 L379.34,729.98 L381.34,729.76 L383.33,729.55 L385.33,729.33 L387.32,729.12 L389.32,728.91 L391.31,728.70 L393.31,728.49 L395.30,728.28 L397.30,728.08 L399.29,727.87 L401.29,727.67 L403.28,727.47 L405.28,727.27 L407.27,727.07 L409.26,726.87 L411.26,726.68 L413.25,726.48 L415.25,726.29 L417.24,726.10 L419.24,725.91 L421.23,725.72 L423.23,725.53 L425.22,725.35 L427.22,725.16 L429.21,724.98 L431.21,724.80 L433.20,724.62 L435.20,724.44 L437.19,724.26 L439.19,724.09 L441.18,723.91 L443.17,723.74 L445.17,723.57 L447.16,723.40 L449.16,723.23 L451.15,723.06 L453.15,722.90 L455.14,722.73 L457.14,722.57 L459.13,722.41 L461.13,722.25 L463.12,722.09 L465.12,721.93 L467.11,721.77 L469.11,721.62 L471.10,721.47 L473.10,721.31 L475.09,721.16 L477.08,721.01 L479.08,720.87 L481.07,720.72 L483.07,720.57 L485.06,720.43 L487.06,720.29 L489.05,720.14 L491.05,720.00 L493.04,719.87 L495.04,719.73 L497.03,719.59 L499.03,719.46 L501.02,719.32 L503.02,719.19 L505.01,719.06 L507.01,718.93 L509.00,718.80" fill="none" stroke="#c0646e" stroke-width="1.5" stroke-linecap="round" stroke-linejoin="round"/>
<path d="M132.00,768.95 L134.00,768.68 L135.99,768.41 L137.99,768.15 L139.99,767.89 L141.99,767.62 L143.98,767.36 L145.98,767.10 L147.98,766.84 L149.97,766.58 L151.97,766.32 L153.97,766.06 L155.97,765.80 L157.96,765.54 L159.96,765.28 L161.96,765.03 L163.95,764.77 L165.95,764.51 L167.95,764.26 L169.95,764.01 L171.94,763.75 L173.94,763.50 L175.94,763.25 L177.93,763.00 L179.93,762.75 L181.93,762.50 L183.92,762.25 L185.92,762.00 L187.92,761.75 L189.92,761.50 L191.91,761.26 L193.91,761.01 L195.91,760.77 L197.90,760.52 L199.90,760.28 L201.90,760.04 L203.90,759.80 L205.89,759.56 L207.89,759.32 L209.89,759.08 L211.88,758.84 L213.88,758.60 L215.88,758.36 L217.88,758.13 L219.87,757.89 L221.87,757.66 L223.87,757.43 L225.86,757.19 L227.86,756.96 L229.86,756.73 L231.86,756.50 L233.85,756.27 L235.85,756.04 L237.85,755.81 L239.84,755.59 L241.84,755.36 L243.84,755.13 L245.84,754.91 L247.83,754.69 L249.83,754.46 L251.83,754.24 L253.82,754.02 L255.82,753.80 L257.82,753.58 L259.82,753.36 L261.81,753.14 L263.81,752.92 L265.81,752.71 L267.80,752.49 L269.80,752.28 L271.80,752.06 L273.79,751.85 L275.79,751.64 L277.79,751.43 L279.79,751.22 L281.78,751.01 L283.78,750.80 L285.78,750.59 L287.77,750.38 L289.77,750.17 L291.77,749.97 L293.77,749.76 L295.76,749.56 L297.76,749.36 L299.76,749.15 L301.75,748.95 L303.75,748.75 L305.75,748.55 L307.75,748.35 L309.74,748.15 L311.74,747.96 L313.74,747.76 L315.73,747.56 L317.73,747.37 L319.73,747.17 L321.73,746.98 L323.72,746.79 L325.72,746.59 L327.72,746.40 L329.71,746.21 L331.71,746.02 L333.71,745.83 L335.71,745.65 L337.70,745.46 L339.70,745.27 L341.70,745.08 L343.69,744.90 L345.69,744.71 L347.69,744.53 L349.68,744.35 L351.68,744.17 L353.68,743.98 L355.68,743.80 L357.67,743.62 L359.67,743.44 L361.67,743.26 L363.66,743.09 L365.66,742.91 L367.66,742.73 L369.66,742.56 L371.65,742.38 L373.65,742.21 L375.65,742.03 L377.64,741.86 L379.64,741.68 L381.64,741.51 L383.64,741.34 L385.63,741.17 L387.63,741.00 L389.63,740.83 L391.62,740.66 L393.62,740.49 L395.62,740.32 L397.62,740.16 L399.61,739.99 L401.61,739.82 L403.61,739.66 L405.60,739.49 L407.60,739.33 L409.60,739.17 L411.60,739.00 L413.59,738.84 L415.59,738.68 L417.59,738.51 L419.58,738.35 L421.58,738.19 L423.58,738.03 L425.58,737.87 L427.57,737.71 L429.57,737.55 L431.57,737.39 L433.56,737.24 L435.56,737.08 L437.56,736.92 L439.55,736.76 L441.55,736.61 L443.55,736.45 L445.55,736.30 L447.54,736.14 L449.54,735.99 L451.54,735.83 L453.53,735.68 L455.53,735.52 L457.53,735.37 L459.53,735.22 L461.52,735.06 L463.52,734.91 L465.52,734.76 L467.51,734.61 L469.51,734.45 L471.51,734.30 L473.51,734.15 L475.50,734.00 L477.50,733.85" fill="none" stroke="#a4d3e0" stroke-width="1.5" stroke-linecap="round" stroke-linejoin="round"/>
<path d="M370.75,781.75 L372.74,781.57 L374.73,781.39 L376.72,781.20 L378.71,781.01 L380.70,780.82 L382.69,780.62 L384.68,780.43 L386.67,780.23 L388.66,780.02 L390.64,779.82 L392.63,779.61 L394.62,779.41 L396.61,779.20 L398.60,778.99 L400.59,778.77 L402.58,778.56 L404.57,778.35 L406.56,778.13 L408.55,777.92 L410.54,777.70 L412.53,777.48 L414.52,777.26 L416.51,777.04 L418.50,776.82 L420.49,776.60 L422.48,776.38 L424.47,776.16 L426.46,775.94 L428.44,775.72 L430.43,775.49 L432.42,775.27 L434.41,775.05 L436.40,774.82 L438.39,774.59 L440.38,774.36 L442.37,774.13 L444.36,773.90 L446.35,773.67 L448.34,773.44 L450.33,773.20 L452.32,772.97 L454.31,772.73 L456.30,772.48 L458.29,772.24 L460.28,771.99 L462.27,771.74 L464.26,771.49 L466.24,771.24 L468.23,770.98 L470.22,770.71 L472.21,770.44 L474.20,770.17 L476.19,769.90 L478.18,769.61 L480.17,769.33 L482.16,769.03 L484.15,768.73 L486.14,768.43 L488.13,768.12 L490.12,767.80 L492.11,767.47 L494.10,767.14 L496.09,766.80 L498.08,766.44 L500.07,766.08 L502.06,765.71 L504.04,765.33 L506.03,764.94 L508.02,764.54 L510.01,764.13 L512.00,763.71 L513.99,763.27 L515.98,762.82 L517.97,762.36 L519.96,761.88 L521.95,761.39 L523.94,760.88 L525.93,760.36 L527.92,759.82 L529.91,759.27 L531.90,758.70 L533.89,758.11 L535.88,757.50 L537.87,756.87 L539.86,756.22 L541.84,755.55 L543.83,754.86 L545.82,754.15 L547.81,753.42 L549.80,752.66 L551.79,751.88 L553.78,751.07 L555.77,750.24 L557.76,749.38 L559.75,748.50" fill="none" stroke="#93c3d3" stroke-width="1.5" stroke-linecap="round" stroke-linejoin="round"/>
<line x1="130" y1="36.6" x2="679.5" y2="36.6" stroke="#3a3a3a" stroke-width="2.6"/>
<line x1="132" y1="104.9" x2="336.96" y2="104.9" stroke="#5a5a5a" stroke-width="2"/>
<line x1="132" y1="173.06" x2="678.56" y2="173.06" stroke="#626262" stroke-width="2.1"/>
<line x1="132" y1="241.415" x2="678.56" y2="241.415" stroke="#626262" stroke-width="2.1"/>
<line x1="132" y1="309.77000000000004" x2="678.56" y2="309.77000000000004" stroke="#626262" stroke-width="2.1"/>
<line x1="132" y1="378.12500000000006" x2="678.56" y2="378.12500000000006" stroke="#626262" stroke-width="2.1"/>
<line x1="132" y1="446.2" x2="678.56" y2="446.2" stroke="#404040" stroke-width="2.6"/>
<line x1="132" y1="514.835" x2="678.56" y2="514.835" stroke="#626262" stroke-width="2.1"/>
<line x1="132" y1="583.19" x2="678.56" y2="583.19" stroke="#626262" stroke-width="2.1"/>
<line x1="132" y1="651.5450000000001" x2="678.56" y2="651.5450000000001" stroke="#626262" stroke-width="2.1"/>
<line x1="132" y1="719.9000000000001" x2="678.56" y2="719.9000000000001" stroke="#626262" stroke-width="2.1"/>
<line x1="132" y1="788" x2="678.56" y2="788" stroke="#a0a0a0" stroke-width="3.4"/>
<line x1="130" y1="856.8" x2="679.5" y2="856.8" stroke="#505050" stroke-width="3.2"/>
<line x1="132" y1="35.5" x2="132" y2="858.3" stroke="#9a9a9a" stroke-width="4"/>
<line x1="200.32" y1="37" x2="200.32" y2="856.61" stroke="#727272" stroke-width="2.4"/>
<line x1="268.64" y1="37" x2="268.64" y2="856.61" stroke="#727272" stroke-width="2.4"/>
<line x1="336.96" y1="37" x2="336.96" y2="856.61" stroke="#727272" stroke-width="2.4"/>
<line x1="405.28" y1="173.06" x2="405.28" y2="856.61" stroke="#727272" stroke-width="2.4"/>
<line x1="473.59999999999997" y1="173.06" x2="473.59999999999997" y2="856.61" stroke="#727272" stroke-width="2.4"/>
<line x1="541.92" y1="173.06" x2="541.92" y2="856.61" stroke="#727272" stroke-width="2.4"/>
<line x1="610.24" y1="173.06" x2="610.24" y2="720.9000000000001" stroke="#727272" stroke-width="2.4"/>
<line x1="610.24" y1="787.2550000000001" x2="610.24" y2="856.61" stroke="#727272" stroke-width="2.4"/>
<line x1="678.2" y1="35.5" x2="678.2" y2="858.3" stroke="#6a6a6a" stroke-width="2.6"/>
<line x1="353" y1="64.5" x2="408.5" y2="64.5" stroke="#93c3d3" stroke-width="2.2"/>
<line x1="353" y1="92.5" x2="408.5" y2="92.5" stroke="#98bc80" stroke-width="2.2"/>
<line x1="353" y1="121.5" x2="408.5" y2="121.5" stroke="#8c6064" stroke-width="2.2"/>
<line x1="353" y1="150" x2="408.5" y2="150" stroke="#a4d3e0" stroke-width="2.2"/>
<text transform="matrix(0.2786 0 0 0.3119 417.44 72.69)" font-size="100" fill="#3a3a3a">3</text>
<text transform="matrix(0.2786 0 0 0.3119 432.04 72.69)" font-size="100" fill="#3a3a3a">0</text>
<text transform="matrix(0.2786 0 0 0.3119 446.64 72.69)" font-size="100" fill="#3a3a3a">0</text>
<text transform="matrix(0.4821 0 0 0.3567 461.80 74.64)" font-size="100" fill="#3a3a3a">/</text>
<text transform="matrix(0.2786 0 0 0.3119 475.84 72.69)" font-size="100" fill="#3a3a3a">4</text>
<text transform="matrix(0.2786 0 0 0.3119 490.44 72.69)" font-size="100" fill="#3a3a3a">6</text>
<text transform="matrix(0.2786 0 0 0.3119 505.04 72.69)" font-size="100" fill="#3a3a3a">0</text>
<rect x="521.20" y="60.30" width="12.5" height="1.8" fill="#3a3a3a"/>
<text transform="matrix(0.2786 0 0 0.3119 534.24 72.69)" font-size="100" fill="#3a3a3a">2</text>
<text transform="matrix(0.2786 0 0 0.3119 548.84 72.69)" font-size="100" fill="#3a3a3a">0</text>
<text transform="matrix(0.2786 0 0 0.3119 563.44 72.69)" font-size="100" fill="#3a3a3a">0</text>
<text transform="matrix(0.4821 0 0 0.3567 578.60 74.64)" font-size="100" fill="#3a3a3a">/</text>
<text transform="matrix(0.2786 0 0 0.3119 592.64 72.69)" font-size="100" fill="#3a3a3a">4</text>
<text transform="matrix(0.2786 0 0 0.3119 417.44 101.44)" font-size="100" fill="#3a3a3a">3</text>
<text transform="matrix(0.2786 0 0 0.3119 432.04 101.44)" font-size="100" fill="#3a3a3a">0</text>
<text transform="matrix(0.2786 0 0 0.3119 446.64 101.44)" font-size="100" fill="#3a3a3a">0</text>
<text transform="matrix(0.4821 0 0 0.3567 461.80 103.39)" font-size="100" fill="#3a3a3a">/</text>
<text transform="matrix(0.2786 0 0 0.3119 475.84 101.44)" font-size="100" fill="#3a3a3a">4</text>
<text transform="matrix(0.2786 0 0 0.3119 490.44 101.44)" font-size="100" fill="#3a3a3a">2</text>
<text transform="matrix(0.2786 0 0 0.3119 505.04 101.44)" font-size="100" fill="#3a3a3a">5</text>
<rect x="521.20" y="89.05" width="12.5" height="1.8" fill="#3a3a3a"/>
<text transform="matrix(0.2786 0 0 0.3119 533.04 101.44)" font-size="100" fill="#3a3a3a">1</text>
<text transform="matrix(0.2786 0 0 0.3119 548.84 101.44)" font-size="100" fill="#3a3a3a">6</text>
<text transform="matrix(0.2786 0 0 0.3119 563.44 101.44)" font-size="100" fill="#3a3a3a">0</text>
<text transform="matrix(0.4821 0 0 0.3567 578.60 103.39)" font-size="100" fill="#3a3a3a">/</text>
<text transform="matrix(0.2786 0 0 0.3119 592.64 101.44)" font-size="100" fill="#3a3a3a">4</text>
<text transform="matrix(0.2786 0 0 0.3119 417.44 132.09)" font-size="100" fill="#3a3a3a">3</text>
<text transform="matrix(0.2786 0 0 0.3119 432.04 132.09)" font-size="100" fill="#3a3a3a">0</text>
<text transform="matrix(0.2786 0 0 0.3119 446.64 132.09)" font-size="100" fill="#3a3a3a">0</text>
<text transform="matrix(0.4821 0 0 0.3567 461.80 134.04)" font-size="100" fill="#3a3a3a">/</text>
<text transform="matrix(0.2786 0 0 0.3119 475.84 132.09)" font-size="100" fill="#3a3a3a">3</text>
<text transform="matrix(0.2786 0 0 0.3119 490.44 132.09)" font-size="100" fill="#3a3a3a">7</text>
<text transform="matrix(0.2786 0 0 0.3119 505.04 132.09)" font-size="100" fill="#3a3a3a">5</text>
<rect x="521.20" y="119.70" width="12.5" height="1.8" fill="#3a3a3a"/>
<text transform="matrix(0.2786 0 0 0.3119 533.04 132.09)" font-size="100" fill="#3a3a3a">1</text>
<text transform="matrix(0.2786 0 0 0.3119 547.64 132.09)" font-size="100" fill="#3a3a3a">1</text>
<text transform="matrix(0.2786 0 0 0.3119 563.44 132.09)" font-size="100" fill="#3a3a3a">0</text>
<text transform="matrix(0.4821 0 0 0.3567 578.60 134.04)" font-size="100" fill="#3a3a3a">/</text>
<text transform="matrix(0.2786 0 0 0.3119 592.64 132.09)" font-size="100" fill="#3a3a3a">4</text>
<text transform="matrix(0.2786 0 0 0.3119 417.44 160.19)" font-size="100" fill="#3a3a3a">3</text>
<text transform="matrix(0.2786 0 0 0.3119 432.04 160.19)" font-size="100" fill="#3a3a3a">0</text>
<text transform="matrix(0.2786 0 0 0.3119 446.64 160.19)" font-size="100" fill="#3a3a3a">0</text>
<text transform="matrix(0.4821 0 0 0.3567 461.80 162.14)" font-size="100" fill="#3a3a3a">/</text>
<text transform="matrix(0.2786 0 0 0.3119 475.84 160.19)" font-size="100" fill="#3a3a3a">3</text>
<text transform="matrix(0.2786 0 0 0.3119 490.44 160.19)" font-size="100" fill="#3a3a3a">5</text>
<text transform="matrix(0.2786 0 0 0.3119 505.04 160.19)" font-size="100" fill="#3a3a3a">5</text>
<rect x="521.20" y="147.80" width="12.5" height="1.8" fill="#3a3a3a"/>
<text transform="matrix(0.2786 0 0 0.3119 534.24 160.19)" font-size="100" fill="#3a3a3a">9</text>
<text transform="matrix(0.2786 0 0 0.3119 548.84 160.19)" font-size="100" fill="#3a3a3a">0</text>
<text transform="matrix(0.4821 0 0 0.3567 564.00 162.14)" font-size="100" fill="#3a3a3a">/</text>
<text transform="matrix(0.2786 0 0 0.3119 578.04 160.19)" font-size="100" fill="#3a3a3a">4</text>
<rect x="358.0" y="185.5" width="41" height="36.0" fill="#fff" stroke="#666" stroke-width="2" rx="1"/>
<text transform="matrix(0.1892 0 0 0.3154 370.12 214.50)" font-size="100" fill="#484848" font-weight="bold">H</text>
<rect x="217.0" y="532.5" width="40" height="36.0" fill="#fff" stroke="#666" stroke-width="2" rx="1"/>
<rect x="228.20" y="543.80" width="11.20" height="1.80" fill="#3c3c3c"/>
<rect x="230.30" y="544.30" width="2.80" height="10.40" fill="#5c5c5c"/>
<rect x="229.60" y="553.40" width="3.60" height="1.40" fill="#444"/>
<rect x="237.70" y="544.30" width="2.70" height="16.20" fill="#5c5c5c"/>
<rect x="238.20" y="558.70" width="2.80" height="1.70" fill="#3c3c3c"/>
<rect x="282.0" y="661.0" width="40" height="36" fill="#fff" stroke="#666" stroke-width="2" rx="1"/>
<text transform="matrix(0.2449 0 0 0.3077 288.27 690.00)" font-size="100" fill="#3a3a3a">P</text>
<text transform="matrix(0.3125 0 0 0.2708 302.56 689.73)" font-size="100" fill="#3a3a3a">a</text>
<rect x="569.0" y="734.0" width="103" height="37" fill="#fff" stroke="#666" stroke-width="2" rx="1"/>
<text transform="matrix(0.2308 0 0 0.2333 580.08 758.60)" font-size="100" fill="#3a3a3a">(</text>
<text transform="matrix(0.1791 0 0 0.2538 587.96 760.50)" font-size="100" fill="#404040">N</text>
<text transform="matrix(0.2041 0 0 0.2538 600.89 760.50)" font-size="100" fill="#404040">P</text>
<text transform="matrix(0.2395 0 0 0.2522 610.82 760.45)" font-size="100" fill="#404040">S</text>
<text transform="matrix(0.1742 0 0 0.2538 622.98 760.50)" font-size="100" fill="#404040">H</text>
<text transform="matrix(0.2308 0 0 0.2333 635.81 758.60)" font-size="100" fill="#3a3a3a">)</text>
<text transform="matrix(0.2581 0 0 0.2234 648.98 760.50)" font-size="100" fill="#3a3a3a">r</text>
<text transform="matrix(0.1894 0 0 0.3077 51.93 131.50)" font-size="100" fill="#3a3a3a">H</text>
<text transform="matrix(0.2692 0 0 0.2778 70.92 128.17)" font-size="100" fill="#3a3a3a">(</text>
<text transform="matrix(0.1757 0 0 0.3085 81.65 131.50)" font-size="100" fill="#3a3a3a">m</text>
<text transform="matrix(0.2692 0 0 0.2778 96.19 128.17)" font-size="100" fill="#3a3a3a">)</text>
<line x1="101.2" y1="172.5" x2="101.2" y2="447.5" stroke="#858585" stroke-width="2.5"/>
<line x1="100" y1="173.06" x2="111" y2="173.06" stroke="#858585" stroke-width="2.5"/>
<line x1="100" y1="241.415" x2="111" y2="241.415" stroke="#858585" stroke-width="2.5"/>
<line x1="100" y1="309.77000000000004" x2="111" y2="309.77000000000004" stroke="#858585" stroke-width="2.5"/>
<line x1="100" y1="378.12500000000006" x2="111" y2="378.12500000000006" stroke="#858585" stroke-width="2.5"/>
<line x1="100" y1="446.48" x2="111" y2="446.48" stroke="#858585" stroke-width="2.5"/>
<text transform="matrix(0.2772 0 0 0.2970 63.89 177.36)" font-size="100" fill="#3a3a3a">8</text>
<text transform="matrix(0.2772 0 0 0.2970 77.85 177.36)" font-size="100" fill="#3a3a3a">0</text>
<text transform="matrix(0.2772 0 0 0.2970 63.89 245.72)" font-size="100" fill="#3a3a3a">7</text>
<text transform="matrix(0.2772 0 0 0.2970 77.85 245.72)" font-size="100" fill="#3a3a3a">0</text>
<text transform="matrix(0.2772 0 0 0.2970 63.89 314.07)" font-size="100" fill="#3a3a3a">6</text>
<text transform="matrix(0.2772 0 0 0.2970 77.85 314.07)" font-size="100" fill="#3a3a3a">0</text>
<text transform="matrix(0.2772 0 0 0.2970 63.89 382.43)" font-size="100" fill="#3a3a3a">5</text>
<text transform="matrix(0.2772 0 0 0.2970 77.85 382.43)" font-size="100" fill="#3a3a3a">0</text>
<text transform="matrix(0.2772 0 0 0.2970 63.89 450.78)" font-size="100" fill="#3a3a3a">4</text>
<text transform="matrix(0.2772 0 0 0.2970 77.85 450.78)" font-size="100" fill="#3a3a3a">0</text>
<text transform="matrix(0.2612 0 0 0.3000 32.22 618.00)" font-size="100" fill="#3a3a3a">P</text>
<text transform="matrix(0.3125 0 0 0.2667 46.56 617.73)" font-size="100" fill="#3a3a3a">a</text>
<text transform="matrix(0.2885 0 0 0.2844 65.95 615.03)" font-size="100" fill="#3a3a3a">(</text>
<text transform="matrix(0.1912 0 0 0.2969 76.43 618.30)" font-size="100" fill="#3a3a3a">K</text>
<text transform="matrix(0.1362 0 0 0.2924 91.50 618.01)" font-size="100" fill="#3a3a3a">W</text>
<text transform="matrix(0.3115 0 0 0.2844 104.57 615.03)" font-size="100" fill="#3a3a3a">)</text>
<line x1="106.8" y1="650.5450000000001" x2="106.8" y2="789.2550000000001" stroke="#858585" stroke-width="2.5"/>
<line x1="105.6" y1="651.5450000000001" x2="115.5" y2="651.5450000000001" stroke="#858585" stroke-width="2.5"/>
<line x1="105.6" y1="719.9000000000001" x2="115.5" y2="719.9000000000001" stroke="#858585" stroke-width="2.5"/>
<line x1="105.6" y1="788.2550000000001" x2="115.5" y2="788.2550000000001" stroke="#858585" stroke-width="2.5"/>
<text transform="matrix(0.2800 0 0 0.3000 54.08 655.50)" font-size="100" fill="#3a3a3a">2</text>
<text transform="matrix(0.2800 0 0 0.3000 68.70 655.50)" font-size="100" fill="#3a3a3a">0</text>
<text transform="matrix(0.2800 0 0 0.3000 83.32 655.50)" font-size="100" fill="#3a3a3a">0</text>
<text transform="matrix(0.2786 0 0 0.2985 53.79 724.20)" font-size="100" fill="#3a3a3a">1</text>
<text transform="matrix(0.2786 0 0 0.2985 69.39 724.20)" font-size="100" fill="#3a3a3a">0</text>
<text transform="matrix(0.2786 0 0 0.2985 83.69 724.20)" font-size="100" fill="#3a3a3a">0</text>
<text transform="matrix(0.2800 0 0 0.3000 83.40 793.00)" font-size="100" fill="#3a3a3a">0</text>
<rect x="725.90" y="432.60" width="10.42" height="1.80" fill="#3c3c3c"/>
<rect x="727.85" y="433.10" width="2.60" height="10.40" fill="#5c5c5c"/>
<rect x="727.20" y="442.20" width="3.35" height="1.40" fill="#444"/>
<rect x="734.74" y="433.10" width="2.51" height="16.20" fill="#5c5c5c"/>
<rect x="735.20" y="447.50" width="2.60" height="1.70" fill="#3c3c3c"/>
<text transform="matrix(0.2385 0 0 0.2944 710.35 477.82)" font-size="100" fill="#3a3a3a">(</text>
<text transform="matrix(0.1753 0 0 0.2910 720.47 480.21)" font-size="100" fill="#3a3a3a">%</text>
<text transform="matrix(0.2385 0 0 0.2944 736.08 477.82)" font-size="100" fill="#3a3a3a">)</text>
<line x1="712.3" y1="514.835" x2="712.3" y2="583.19" stroke="#666" stroke-width="2.3"/>
<line x1="703.5" y1="514.835" x2="713.3" y2="514.835" stroke="#666" stroke-width="2.3"/>
<line x1="703.5" y1="583.19" x2="713.3" y2="583.19" stroke="#666" stroke-width="2.3"/>
<text transform="matrix(0.2786 0 0 0.2985 723.89 517.70)" font-size="100" fill="#3a3a3a">8</text>
<text transform="matrix(0.2786 0 0 0.2985 739.19 517.70)" font-size="100" fill="#3a3a3a">0</text>
<text transform="matrix(0.2716 0 0 0.2910 723.91 585.21)" font-size="100" fill="#3a3a3a">6</text>
<text transform="matrix(0.2716 0 0 0.2910 739.51 585.21)" font-size="100" fill="#3a3a3a">0</text>
<text transform="matrix(0.2154 0 0 0.1956 685.34 661.39)" font-size="100" fill="#3a3a3a">(</text>
<text transform="matrix(0.1761 0 0 0.2338 691.87 664.20)" font-size="100" fill="#404040">N</text>
<text transform="matrix(0.1959 0 0 0.2338 704.71 664.20)" font-size="100" fill="#404040">P</text>
<text transform="matrix(0.2488 0 0 0.2328 714.26 664.17)" font-size="100" fill="#404040">S</text>
<text transform="matrix(0.1864 0 0 0.2338 727.84 664.20)" font-size="100" fill="#404040">H</text>
<text transform="matrix(0.1731 0 0 0.1956 741.38 661.39)" font-size="100" fill="#3a3a3a">)</text>
<text transform="matrix(0.2484 0 0 0.2277 754.00 664.20)" font-size="100" fill="#3a3a3a">r</text>
<text transform="matrix(0.2154 0 0 0.2628 706.14 691.88)" font-size="100" fill="#3a3a3a">(</text>
<text transform="matrix(0.1824 0 0 0.2511 715.64 694.00)" font-size="100" fill="#3a3a3a">m</text>
<text transform="matrix(0.2154 0 0 0.2628 732.25 691.88)" font-size="100" fill="#3a3a3a">)</text>
<line x1="711.5" y1="719.5" x2="711.5" y2="788" stroke="#666" stroke-width="2.3"/>
<line x1="702.8" y1="719.5" x2="712.5" y2="719.5" stroke="#666" stroke-width="2.3"/>
<line x1="702.8" y1="788" x2="712.5" y2="788" stroke="#666" stroke-width="2.3"/>
<text transform="matrix(0.2605 0 0 0.2791 719.94 730.02)" font-size="100" fill="#3a3a3a">7</text>
<text transform="matrix(0.2605 0 0 0.2791 720.24 794.72)" font-size="100" fill="#3a3a3a">5</text>
<line x1="130.5" y1="885.5" x2="679.5" y2="885.5" stroke="#888" stroke-width="3"/>
<line x1="130.5" y1="934.5" x2="679.5" y2="934.5" stroke="#444" stroke-width="2"/>
<line x1="131.8" y1="876.3" x2="131.8" y2="885.5" stroke="#666" stroke-width="2"/>
<line x1="131.8" y1="925.5" x2="131.8" y2="934.5" stroke="#666" stroke-width="2"/>
<line x1="217.3" y1="876.3" x2="217.3" y2="885.5" stroke="#666" stroke-width="2"/>
<line x1="217.3" y1="925.5" x2="217.3" y2="934.5" stroke="#666" stroke-width="2"/>
<line x1="302.8" y1="876.3" x2="302.8" y2="885.5" stroke="#666" stroke-width="2"/>
<line x1="302.8" y1="925.5" x2="302.8" y2="934.5" stroke="#666" stroke-width="2"/>
<line x1="388.3" y1="876.3" x2="388.3" y2="885.5" stroke="#666" stroke-width="2"/>
<line x1="388.3" y1="925.5" x2="388.3" y2="934.5" stroke="#666" stroke-width="2"/>
<line x1="473.8" y1="876.3" x2="473.8" y2="885.5" stroke="#666" stroke-width="2"/>
<line x1="473.8" y1="925.5" x2="473.8" y2="934.5" stroke="#666" stroke-width="2"/>
<line x1="559.3" y1="876.3" x2="559.3" y2="885.5" stroke="#666" stroke-width="2"/>
<line x1="559.3" y1="925.5" x2="559.3" y2="934.5" stroke="#666" stroke-width="2"/>
<line x1="644.8" y1="876.3" x2="644.8" y2="885.5" stroke="#666" stroke-width="2"/>
<line x1="644.8" y1="925.5" x2="644.8" y2="934.5" stroke="#666" stroke-width="2"/>
<text transform="matrix(0.2841 0 0 0.3045 124.70 915.00)" font-size="100" fill="#3a3a3a">0</text>
<text transform="matrix(0.2841 0 0 0.3045 202.81 915.00)" font-size="100" fill="#3a3a3a">5</text>
<text transform="matrix(0.2841 0 0 0.3045 217.58 915.00)" font-size="100" fill="#3a3a3a">0</text>
<text transform="matrix(0.2841 0 0 0.3045 279.56 915.00)" font-size="100" fill="#3a3a3a">1</text>
<text transform="matrix(0.2841 0 0 0.3045 295.70 915.00)" font-size="100" fill="#3a3a3a">0</text>
<text transform="matrix(0.2841 0 0 0.3045 310.53 915.00)" font-size="100" fill="#3a3a3a">0</text>
<text transform="matrix(0.2841 0 0 0.3045 365.06 915.00)" font-size="100" fill="#3a3a3a">1</text>
<text transform="matrix(0.2841 0 0 0.3045 381.20 915.00)" font-size="100" fill="#3a3a3a">5</text>
<text transform="matrix(0.2841 0 0 0.3045 396.03 915.00)" font-size="100" fill="#3a3a3a">0</text>
<text transform="matrix(0.2841 0 0 0.3045 451.86 915.00)" font-size="100" fill="#3a3a3a">2</text>
<text transform="matrix(0.2841 0 0 0.3045 466.70 915.00)" font-size="100" fill="#3a3a3a">0</text>
<text transform="matrix(0.2841 0 0 0.3045 481.53 915.00)" font-size="100" fill="#3a3a3a">0</text>
<text transform="matrix(0.2841 0 0 0.3045 537.36 915.00)" font-size="100" fill="#3a3a3a">2</text>
<text transform="matrix(0.2841 0 0 0.3045 552.20 915.00)" font-size="100" fill="#3a3a3a">5</text>
<text transform="matrix(0.2841 0 0 0.3045 567.03 915.00)" font-size="100" fill="#3a3a3a">0</text>
<text transform="matrix(0.2841 0 0 0.3045 622.86 915.00)" font-size="100" fill="#3a3a3a">3</text>
<text transform="matrix(0.2841 0 0 0.3045 637.70 915.00)" font-size="100" fill="#3a3a3a">0</text>
<text transform="matrix(0.2841 0 0 0.3045 652.53 915.00)" font-size="100" fill="#3a3a3a">0</text>
<text transform="matrix(0.2716 0 0 0.2910 125.01 963.51)" font-size="100" fill="#3a3a3a">0</text>
<text transform="matrix(0.2716 0 0 0.2910 194.11 963.51)" font-size="100" fill="#3a3a3a">1</text>
<text transform="matrix(0.2716 0 0 0.2910 210.51 963.51)" font-size="100" fill="#3a3a3a">8</text>
<text transform="matrix(0.2716 0 0 0.2910 225.61 963.51)" font-size="100" fill="#3a3a3a">0</text>
<text transform="matrix(0.2716 0 0 0.2910 280.91 963.51)" font-size="100" fill="#3a3a3a">3</text>
<text transform="matrix(0.2716 0 0 0.2910 296.01 963.51)" font-size="100" fill="#3a3a3a">6</text>
<text transform="matrix(0.2716 0 0 0.2910 311.11 963.51)" font-size="100" fill="#3a3a3a">0</text>
<text transform="matrix(0.2716 0 0 0.2910 366.41 963.51)" font-size="100" fill="#3a3a3a">5</text>
<text transform="matrix(0.2716 0 0 0.2910 381.51 963.51)" font-size="100" fill="#3a3a3a">4</text>
<text transform="matrix(0.2716 0 0 0.2910 396.61 963.51)" font-size="100" fill="#3a3a3a">0</text>
<text transform="matrix(0.2716 0 0 0.2910 451.91 963.51)" font-size="100" fill="#3a3a3a">7</text>
<text transform="matrix(0.2716 0 0 0.2910 467.01 963.51)" font-size="100" fill="#3a3a3a">2</text>
<text transform="matrix(0.2716 0 0 0.2910 482.11 963.51)" font-size="100" fill="#3a3a3a">0</text>
<text transform="matrix(0.2716 0 0 0.2910 537.41 963.51)" font-size="100" fill="#3a3a3a">9</text>
<text transform="matrix(0.2716 0 0 0.2910 552.51 963.51)" font-size="100" fill="#3a3a3a">0</text>
<text transform="matrix(0.2716 0 0 0.2910 567.61 963.51)" font-size="100" fill="#3a3a3a">0</text>
<text transform="matrix(0.2716 0 0 0.2910 615.66 963.51)" font-size="100" fill="#3a3a3a">1</text>
<text transform="matrix(0.2716 0 0 0.2910 630.99 963.51)" font-size="100" fill="#3a3a3a">0</text>
<text transform="matrix(0.2716 0 0 0.2910 645.03 963.51)" font-size="100" fill="#3a3a3a">8</text>
<text transform="matrix(0.2716 0 0 0.2910 659.06 963.51)" font-size="100" fill="#3a3a3a">0</text>
<text transform="matrix(0.2015 0 0 0.2537 706.69 874.14)" font-size="100" fill="#444" font-weight="bold">Q</text>
<text transform="matrix(0.2404 0 0 0.2811 685.29 909.30)" font-size="100" fill="#3a3a3a">(</text>
<text transform="matrix(0.2615 0 0 0.2892 694.62 912.60)" font-size="100" fill="#3a3a3a">L</text>
<text transform="matrix(0.4286 0 0 0.3731 710.50 914.63)" font-size="100" fill="#3a3a3a">/</text>
<text transform="matrix(0.3226 0 0 0.2771 724.71 912.52)" font-size="100" fill="#3a3a3a">s</text>
<text transform="matrix(0.2500 0 0 0.2811 740.75 909.30)" font-size="100" fill="#3a3a3a">)</text>
<text transform="matrix(0.2404 0 0 0.2756 685.29 960.21)" font-size="100" fill="#3a3a3a">(</text>
<text transform="matrix(0.1932 0 0 0.3468 695.01 964.00)" font-size="100" fill="#3a3a3a">m</text>
<text transform="matrix(0.2220 0 0 0.2224 706.59 946.18)" font-size="100" fill="#3a3a3a">3</text>
<text transform="matrix(0.4107 0 0 0.3806 711.00 965.62)" font-size="100" fill="#3a3a3a">/</text>
<text transform="matrix(0.2708 0 0 0.2971 723.73 964.00)" font-size="100" fill="#3a3a3a">h</text>
<text transform="matrix(0.2500 0 0 0.2756 740.75 960.21)" font-size="100" fill="#3a3a3a">)</text>
</svg></div>
</body></html>
